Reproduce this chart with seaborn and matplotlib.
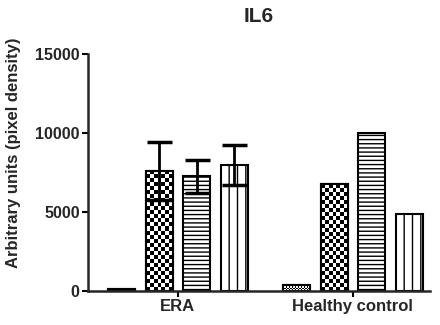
import numpy as np
import pandas as pd
import matplotlib
matplotlib.use("Agg")
import matplotlib.pyplot as plt
import seaborn as sns

# ---- data ----
groups = ["ERA", "Healthy control"]
series = ["A", "B", "C", "D"]
era_means = [100, 7600, 7250, 8000]
era_err = [0, 1850, 1050, 1270]
hc_means = [400, 6750, 10000, 4850]
hc_err = [0, 0, 0, 0]
yticks = [0, 5000, 10000, 15000]

sns.set_theme(style="ticks")
plt.rcParams['font.family'] = ['Liberation Sans', 'DejaVu Sans']
plt.rcParams['font.weight'] = 'bold'
plt.rcParams['hatch.linewidth'] = 1.0

df = pd.DataFrame({
    "group": [g for g in groups for _ in series],
    "series": series * 2,
    "value": era_means + hc_means,
    "err": era_err + hc_err,
})

fig = plt.figure(figsize=(4.4, 3.25), dpi=100)
ax = fig.add_axes([0.2, 0.1046, 0.777, 0.7292])

sns.barplot(data=df, x="group", y="value", hue="series", order=groups,
            hue_order=series, errorbar=None, width=0.857, gap=0.28,
            color="white", edgecolor="black", linewidth=1.5, ax=ax,
            legend=False, saturation=1)

ax.set_xlim(-0.514, 1.44)
ax.set_ylim(0, 15000)

patches = [p for p in ax.patches]
kinds = {"A": "fine", "B": "checker", "C": "h", "D": "v"}


def px_size(p):
    x0, y0 = ax.transData.transform((p.get_x(), p.get_y()))
    x1, y1 = ax.transData.transform((p.get_x() + p.get_width(), p.get_y() + p.get_height()))
    return abs(x1 - x0), abs(y1 - y0)


idx = 0
for s in series:
    for g in groups:
        p = patches[idx]
        idx += 1
        k = kinds[s]
        p.set_facecolor("white")
        if k == "h":
            p.set_hatch("----")
        elif k == "v":
            p.set_hatch("||")
        else:
            sq = 4.0 if k == "checker" else 1.5
            wpx, hpx = px_size(p)
            nx = max(1, int(round(wpx / sq)))
            ny = max(1, int(round(hpx / sq)))
            ii, jj = np.indices((ny, nx))
            arr = ((ii + jj) % 2).astype(float)
            im = ax.imshow(arr, cmap="gray", vmin=0, vmax=1,
                           extent=[p.get_x(), p.get_x() + p.get_width(),
                                   p.get_y(), p.get_y() + p.get_height()],
                           origin="lower", interpolation="nearest",
                           aspect="auto", zorder=p.get_zorder() + 0.1)
            im.set_clip_path(p)
            ax.add_patch(plt.Rectangle((p.get_x(), p.get_y()), p.get_width(),
                                       p.get_height(), fill=False,
                                       edgecolor="black", linewidth=1.5,
                                       zorder=p.get_zorder() + 0.2))
        row = df[(df.group == g) & (df.series == s)].iloc[0]
        if row.err > 0:
            ax.errorbar(p.get_x() + p.get_width() / 2, row.value, yerr=row.err,
                        fmt="none", ecolor="black", elinewidth=2, capsize=9,
                        capthick=2.5, zorder=p.get_zorder() + 0.5)

ax.set_xlim(-0.514, 1.44)
ax.set_ylim(0, 15000)
ax.set_aspect("auto")
ax.set_yticks(yticks)
ax.set_yticklabels([str(t) for t in yticks], fontsize=11.5, fontweight="bold")
ax.set_xticks([0, 1])
ax.set_xticklabels(groups, fontsize=12, fontweight="bold")
ax.set_xlabel("")
ax.set_ylabel("Arbitrary units (pixel density)", fontsize=12, fontweight="bold")
ax.yaxis.set_label_coords(-0.195, 0.582)
ax.set_title("IL6", fontsize=15, fontweight="bold", pad=23)
sns.despine(ax=ax)
for sp in ["left", "bottom"]:
    ax.spines[sp].set_linewidth(1.8)
ax.tick_params(axis="both", width=1.5, length=4, pad=2, color="black")

fig.savefig("out.png", dpi=100)
